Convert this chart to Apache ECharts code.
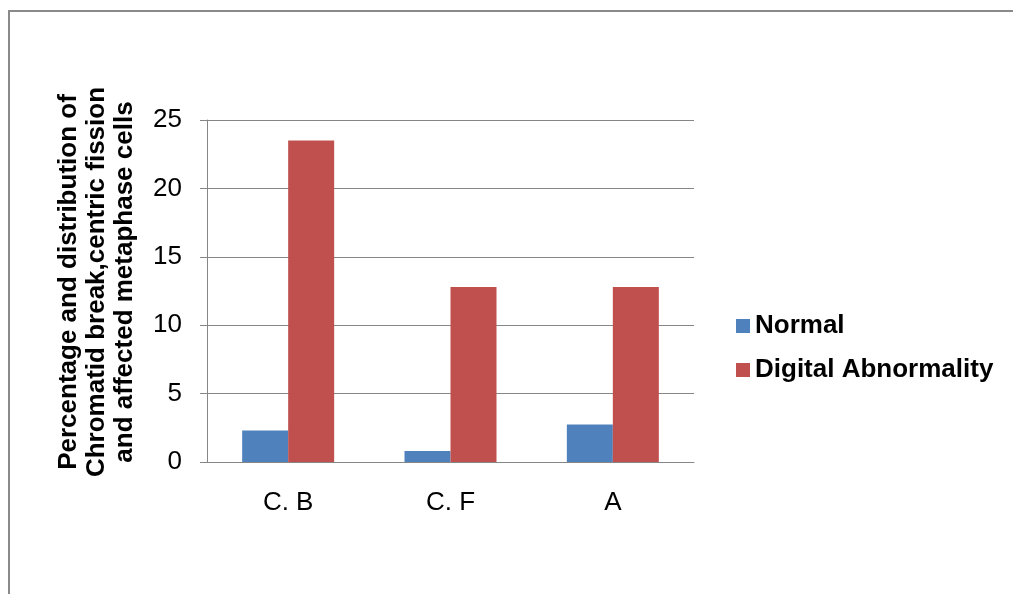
<!DOCTYPE html>
<html>
<head>
<meta charset="utf-8">
<script src="https://cdn.jsdelivr.net/npm/echarts@6/dist/echarts.min.js"></script>
<style>
    html, body { margin: 0; padding: 0; background: #fff; }
    #chart { width: 1013px; height: 594px; }
</style>
</head>
<body>
<div id="chart"></div>
<script>
// 数据
var categories = ['C. B', 'C. F', 'A'];
var normalValues = [2.3, 0.8, 2.75];
var abnormalValues = [23.5, 12.8, 12.8];
var seriesNames = ['Normal', 'Digital Abnormality'];
var yTitle = 'Percentage and distribution of\nChromatid break,centric fission\nand affected metaphase cells';

var font = 'Liberation Sans, Arial, sans-serif';

var chart = echarts.init(document.getElementById('chart'));
var option = {
    backgroundColor: '#fff',
    animation: false,
    //外框
    graphic: [{
        type: 'rect',
        shape: { x: 9, y: 11, width: 1030, height: 620 },
        style: { fill: 'none', stroke: '#8a8a8a', lineWidth: 2 },
        silent: true
    }],
    grid: { left: 207, right: 319, top: 120, bottom: 132 },
    legend: {
        orient: 'vertical',
        left: 731,
        top: 308,
        itemWidth: 14,
        itemHeight: 14,
        itemGap: 18,
        icon: 'rect',
        textStyle: { fontFamily: font, fontSize: 26, fontWeight: 'bold', color: '#000', lineHeight: 26 },
        data: seriesNames
    },
    xAxis: {
        type: 'category',
        data: categories,
        axisLine: { lineStyle: { color: '#868686', width: 1 } },
        axisTick: { show: false },
        axisLabel: { fontFamily: font, fontSize: 26, color: '#000', margin: 28 }
    },
    yAxis: {
        type: 'value',
        min: 0,
        max: 25,
        interval: 5,
        name: yTitle,
        nameLocation: 'middle',
        nameRotate: 90,
        nameGap: 68,
        nameTextStyle: {
            fontFamily: font, fontSize: 26, fontWeight: 'bold', color: '#000',
            lineHeight: 28, align: 'center', padding: [0, 0, 0, 18]
        },
        axisLine: { show: true, lineStyle: { color: '#868686', width: 1 } },
        axisTick: { show: true, length: 7, lineStyle: { color: '#868686' } },
        splitLine: { lineStyle: { color: '#868686', width: 1 } },
        axisLabel: { fontFamily: font, fontSize: 26, color: '#000', margin: 25 }
    },
    series: [{
        name: seriesNames[0],
        type: 'bar',
        data: normalValues,
        barWidth: 46,
        barGap: '0%',
        itemStyle: { color: '#4F81BD' }
    }, {
        name: seriesNames[1],
        type: 'bar',
        data: abnormalValues,
        barWidth: 46,
        barGap: '0%',
        itemStyle: { color: '#C0504D' }
    }]
};
chart.setOption(option);
</script>
</body>
</html>
